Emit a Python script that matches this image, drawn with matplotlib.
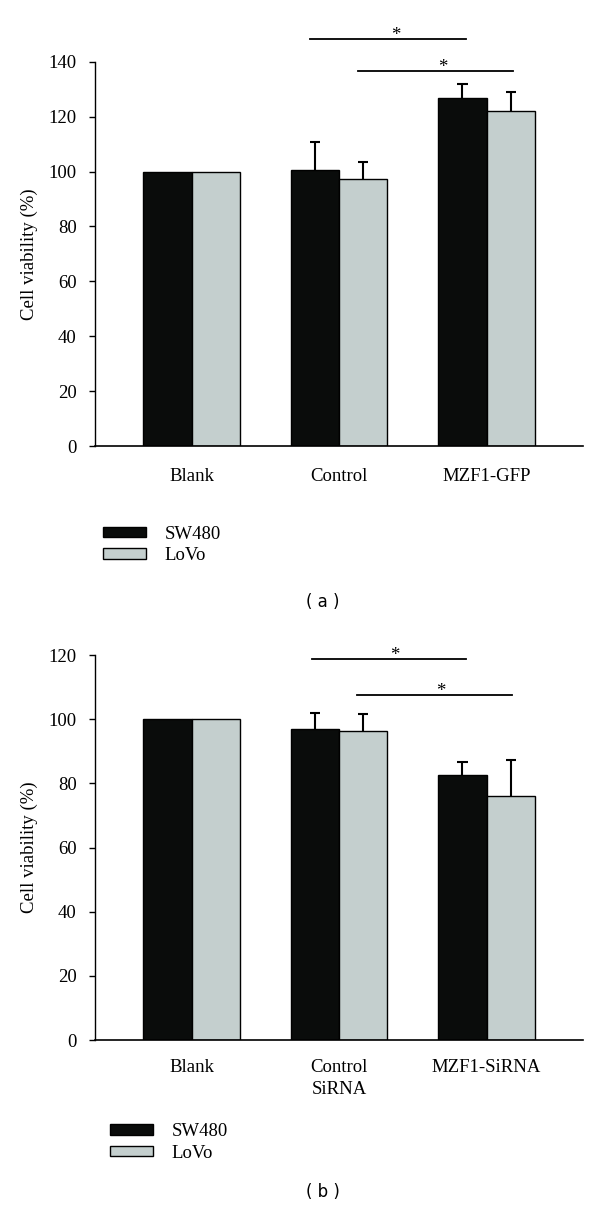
import matplotlib
matplotlib.use("Agg")
import matplotlib.pyplot as plt
import matplotlib.patches as mpatches
import numpy as np

plt.rcParams['font.family'] = ['Liberation Serif', 'DejaVu Serif']

# panel (a)
groups_a = ['Blank', 'Control', 'MZF1-GFP']
sw480_a = [100, 100.5, 126.9]
sw480_a_err = [0, 10.1, 5.0]
lovo_a = [100, 97.3, 121.9]
lovo_a_err = [0, 6.3, 7.2]
# (x start, x end, y, star x)
sig_a = [(0.80, 1.86, 148.4, 1.386), (1.13, 2.18, 136.5, 1.70)]

# panel (b)
groups_b = ['Blank', 'Control\nSiRNA', 'MZF1-SiRNA']
sw480_b = [100, 96.8, 82.7]
sw480_b_err = [0, 5.2, 3.9]
lovo_b = [100, 96.2, 76.0]
lovo_b_err = [0, 5.3, 11.3]
sig_b = [(0.82, 1.86, 118.7, 1.38), (1.125, 2.17, 107.4, 1.69)]

series_names = ['SW480', 'LoVo']
colors = ['#0a0c0b', '#c4cfce']
FS = 13.5


def up_errors(ax, xs, vals, errs, cap):
    # only the upper half of the error bar is drawn
    for xi, v, e in zip(xs, vals, errs):
        if e <= 0:
            continue
        ax.vlines(xi, v, v + e, color='black', lw=1.5, zorder=1)
        ax.hlines(v + e, xi - cap, xi + cap, color='black', lw=1.5, zorder=1)


def draw_panel(ax, groups, sw, sw_err, lv, lv_err, sig, ymax, lab_off):
    x = np.arange(len(groups))
    width = 0.327
    ax.bar(x - width / 2, sw, width, color=colors[0], edgecolor='black', linewidth=1, zorder=2)
    ax.bar(x + width / 2, lv, width, color=colors[1], edgecolor='black', linewidth=1, zorder=2)
    up_errors(ax, x - width / 2, sw, sw_err, 0.035)
    up_errors(ax, x + width / 2, lv, lv_err, 0.035)

    for x0, x1, y, xs in sig:
        ax.plot([x0, x1], [y, y], color='black', lw=1.3, clip_on=False)
        ax.text(xs, y + 1.25, '*', ha='center', va='center', fontsize=FS, clip_on=False)

    ax.set_xlim(-0.657, 2.652)
    ax.set_ylim(0, ymax)
    ax.set_yticks(np.arange(0, ymax + 1, 20))
    ax.tick_params(axis='y', direction='out', length=4, width=1, pad=9, labelsize=FS)
    ax.set_xticks([])
    for xi, lab in zip(x, groups):
        ax.text(xi, -lab_off, lab, ha='center', va='top', fontsize=FS,
                transform=ax.get_xaxis_transform(), linespacing=1.35)
    ax.spines['top'].set_visible(False)
    ax.spines['right'].set_visible(False)
    ax.spines['left'].set_linewidth(1)
    ax.spines['bottom'].set_linewidth(1.2)
    ax.set_ylabel('Cell viability (%)', fontsize=FS)
    ax.yaxis.set_label_coords(-0.116, 0.5)


fig = plt.figure(figsize=(6, 12.13), dpi=100)
ax1 = fig.add_axes([0.1577, 0.6323, 0.8135, 0.3168])
ax2 = fig.add_axes([0.1577, 0.1426, 0.8135, 0.3174])

draw_panel(ax1, groups_a, sw480_a, sw480_a_err, lovo_a, lovo_a_err, sig_a, 140, 0.056)
draw_panel(ax2, groups_b, sw480_b, sw480_b_err, lovo_b, lovo_b_err, sig_b, 120, 0.05)

handles = [mpatches.Patch(facecolor=c, edgecolor='black', linewidth=1) for c in colors]
for anchor in [(0.1717, 0.5667), (0.183, 0.0742)]:
    fig.legend(handles, series_names, loc='upper left', bbox_to_anchor=anchor,
               frameon=False, fontsize=FS, handlelength=2.3, handleheight=0.5,
               handletextpad=1.0, labelspacing=0.25, borderpad=0, borderaxespad=0)

fig.text(0.538, 0.5037, '( a )', ha='center', va='center', fontsize=12, family='DejaVu Sans')
fig.text(0.538, 0.0173, '( b )', ha='center', va='center', fontsize=12, family='DejaVu Sans')

fig.savefig('out.png', dpi=100)
